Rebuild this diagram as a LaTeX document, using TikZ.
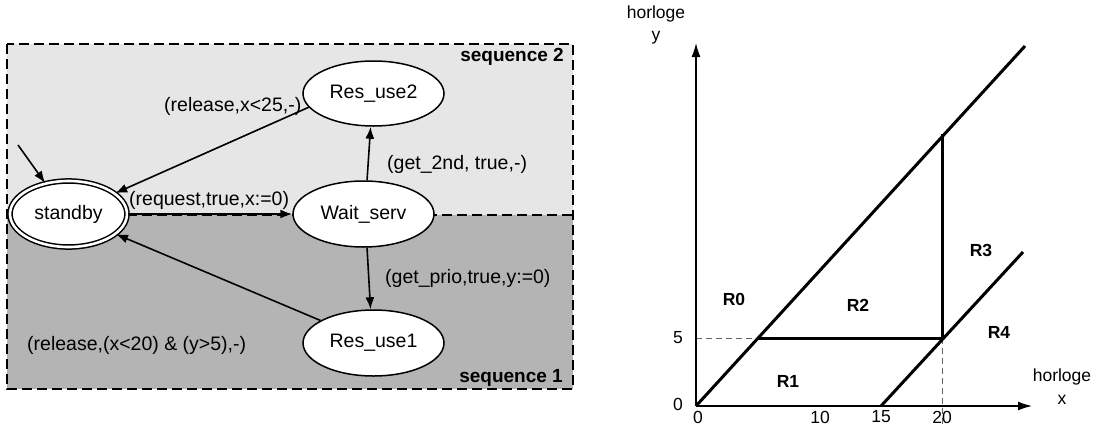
\documentclass[tikz,border=0pt]{standalone}
\usepackage{fontspec}
\setmainfont{Liberation Sans}
\usetikzlibrary{arrows.meta,shapes.geometric}
\definecolor{lightzone}{RGB}{230,230,230}
\definecolor{darkzone}{RGB}{180,180,180}
\tikzset{
  lbl/.style={font=\fontsize{19.5}{22}\selectfont, inner sep=0pt},
  seqlbl/.style={font=\fontsize{19}{22}\selectfont\bfseries, inner sep=0pt},
  state/.style={ellipse, draw, fill=white, line width=1.5pt, inner sep=0pt,
    font=\fontsize{19.5}{22}\selectfont},
  conn/.style={line width=1.6pt, -{Latex[length=12pt,width=9pt]}},
  zonebox/.style={dashed, dash pattern=on 10pt off 5pt, line width=1.6pt},
  axis/.style={line width=1.4pt, -{Latex[length=14pt,width=9pt]}},
  thick line/.style={line width=3pt},
  helper/.style={dashed, dash pattern=on 6pt off 4pt, line width=0.8pt, gray!80!black},
  num/.style={font=\fontsize{17.5}{20}\selectfont, inner sep=0pt},
  region/.style={font=\fontsize{17.5}{20}\selectfont\bfseries, inner sep=0pt},
}
\begin{document}
\begin{tikzpicture}[x=1pt,y=-1pt]
\useasboundingbox (0,0) rectangle (1095,426);
% ---------- left: automaton ----------
\fill[lightzone] (7,44) rectangle (573,215);
\fill[darkzone] (7,215) rectangle (573,389);
\draw[zonebox] (7,44) rectangle (573,389);
\draw[zonebox] (7,215) -- (573,215);
\node[seqlbl, anchor=east] (seq2) at (564,57) {sequence 2};
\node[seqlbl, anchor=east] (seq1) at (563,378) {sequence 1};

\node[state, double, double distance=2.6pt, minimum width=117pt, minimum height=66pt] (sb) at (68.5,214) {standby};
\node[state, minimum width=141pt, minimum height=66pt] (ws) at (363.5,214) {Wait\_serv};
\node[state, minimum width=141pt, minimum height=65pt] (r2) at (373.5,93.5) {Res\_use2};
\node[state, minimum width=141pt, minimum height=66pt] (r1) at (373.5,343) {Res\_use1};

\coordinate (init) at (18,145);
\draw[conn] (init) -- (sb.127);
\draw[conn] (sb.east) -- (ws.west);
\draw[conn] (ws.84) -- (r2.265);
\draw[conn] (ws.276) -- (r1.95);
\draw[conn] (r2.192) -- (sb.24);
\draw[conn] (r1.157) -- (sb.337);

\node[lbl, anchor=west] (l1) at (164,106) {(release,x<25,-)};
\node[lbl, anchor=west] (l2) at (387,164) {(get\_2nd, true,-)};
\node[lbl, anchor=west] (l3) at (129,200) {(request,true,x:=0)};
\node[lbl, anchor=west] (l4) at (385,278) {(get\_prio,true,y:=0)};
\node[lbl, anchor=west] (l5) at (27,345) {(release,(x<20) \& (y>5),-)};

% ---------- right: clock regions ----------
\coordinate (O) at (696,406);
\coordinate (ytop) at (696,43);
\coordinate (xend) at (1032,406);
\coordinate (A) at (758,338);
\coordinate (B) at (942,338);
\coordinate (C) at (942,134);
\coordinate (D1) at (1025,46);
\coordinate (E) at (881,406);
\coordinate (D2) at (1023,252);
\coordinate (Y5) at (696,338);
\coordinate (X20) at (942,424);

\draw[helper] (Y5) -- (A);
\draw[helper] (B) -- (X20);
\draw[axis] (O) -- (ytop);
\draw[axis] (O) -- (xend);
\draw[thick line] (O) -- (D1);
\draw[thick line] (E) -- (D2);
\draw[thick line] (A) -- (B) -- (C);

\node[num] (hy) at (656,14) {horloge};
\node[num] (vy) at (656,38) {y};
\node[num] (hx) at (1062,377) {horloge};
\node[num] (vx) at (1062,400) {x};
\node[num] (n5) at (678,338) {5};
\node[num] (n0y) at (678,404) {0};
\node[num] (n0x) at (698,417) {0};
\node[num] (n10) at (820,417) {10};
\node[num] (n15) at (881,417) {15};
\node[num] (n20) at (942,417) {20};

\node[region] (R0) at (734,299) {R0};
\node[region] (R1) at (788,381) {R1};
\node[region] (R2) at (858,305) {R2};
\node[region] (R3) at (981,250) {R3};
\node[region] (R4) at (999,332) {R4};
\end{tikzpicture}
\end{document}
